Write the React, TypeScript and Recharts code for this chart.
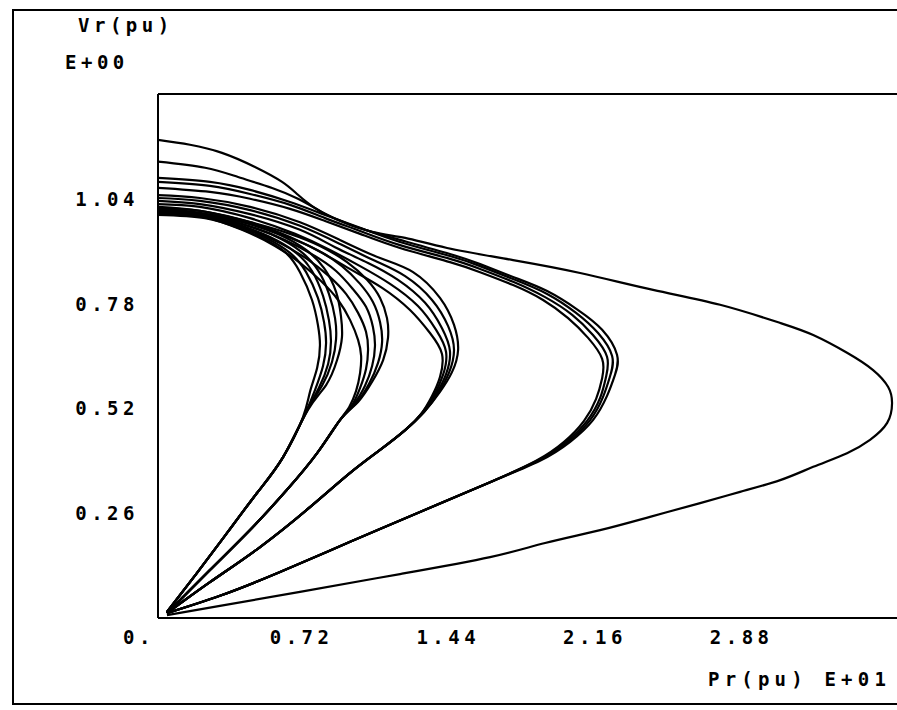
import React from 'react';
import { LineChart, Line, XAxis, YAxis, ReferenceLine } from 'recharts';

type Pt = [number, number];

// Tick labels
const X_TICKS = [0, 0.72, 1.44, 2.16, 2.88];
const Y_TICKS = [0.26, 0.52, 0.78, 1.04];

// Group 5 (largest nose)
const G5: Pt[] = [[0,1.186],[0.157,1.174],[0.314,1.154],[0.476,1.119],[0.609,1.082],[0.687,1.050],[0.771,1.017],[0.884,0.988],[1.051,0.958],[1.213,0.943],[1.419,0.918],[1.743,0.888],[2.072,0.856],[2.430,0.814],[2.759,0.777],[3.054,0.732],[3.216,0.702],[3.382,0.658],[3.510,0.615],[3.584,0.573],[3.603,0.533],[3.579,0.484],[3.495,0.442],[3.382,0.409],[3.216,0.375],[3.054,0.342],[2.857,0.313],[2.661,0.285],[2.415,0.251],[2.170,0.218],[1.900,0.186],[1.630,0.151],[1.188,0.109],[0.697,0.065],[0.304,0.030],[0.044,0.007]];

// Group 4
const G4_LOW: Pt[] = [[1.630,0.337],[1.286,0.263],[0.943,0.189],[0.599,0.114],[0.304,0.055],[0.044,0.012]];
const G4A: Pt[] = [[0,1.132],[0.231,1.117],[0.393,1.094],[0.560,1.067],[0.687,1.040],[0.805,1.007],[0.943,0.975],[1.188,0.938],[1.433,0.903],[1.581,0.878],[1.743,0.846],[1.910,0.811],[2.062,0.764],[2.180,0.715],[2.253,0.653],[2.243,0.603],[2.204,0.551],[2.135,0.491],[2.023,0.437],[1.875,0.390]];
const G4B: Pt[] = [[0,1.092],[0.255,1.082],[0.452,1.062],[0.648,1.032],[0.820,1.000],[0.992,0.968],[1.188,0.933],[1.433,0.898],[1.581,0.873],[1.743,0.841],[1.910,0.804],[2.052,0.757],[2.160,0.707],[2.229,0.650],[2.219,0.600],[2.184,0.548],[2.121,0.491],[2.013,0.437],[1.866,0.390]];
const G4C: Pt[] = [[0,1.082],[0.255,1.072],[0.452,1.052],[0.648,1.025],[0.820,0.992],[0.992,0.960],[1.188,0.925],[1.433,0.891],[1.581,0.866],[1.743,0.834],[1.900,0.796],[2.033,0.752],[2.135,0.702],[2.204,0.648],[2.199,0.598],[2.170,0.546],[2.106,0.489],[2.003,0.437],[1.861,0.390]];
const G4D: Pt[] = [[0,1.067],[0.255,1.057],[0.452,1.040],[0.648,1.015],[0.820,0.985],[0.992,0.953],[1.188,0.918],[1.433,0.883],[1.581,0.858],[1.743,0.826],[1.890,0.789],[2.013,0.744],[2.111,0.695],[2.180,0.643],[2.180,0.595],[2.150,0.543],[2.091,0.489],[1.993,0.437],[1.856,0.390]];

// Group 3
const G3_LOW: Pt[] = [[1.213,0.466],[1.090,0.417],[0.943,0.360],[0.746,0.275],[0.501,0.176],[0.255,0.089],[0.044,0.012]];
const G3A: Pt[] = [[0,1.049],[0.206,1.042],[0.452,1.020],[0.697,0.982],[0.893,0.938],[1.090,0.893],[1.252,0.858],[1.384,0.794],[1.453,0.727],[1.473,0.665],[1.443,0.610],[1.384,0.561],[1.306,0.511]];
const G3B: Pt[] = [[0,1.042],[0.206,1.035],[0.452,1.012],[0.697,0.973],[0.893,0.928],[1.065,0.886],[1.213,0.848],[1.345,0.789],[1.424,0.724],[1.453,0.665],[1.428,0.608],[1.375,0.558],[1.306,0.511]];
const G3C: Pt[] = [[0,1.035],[0.206,1.027],[0.452,1.002],[0.697,0.963],[0.869,0.920],[1.031,0.881],[1.178,0.839],[1.311,0.782],[1.394,0.719],[1.433,0.662],[1.414,0.605],[1.365,0.556],[1.301,0.511]];
const G3D: Pt[] = [[0,1.027],[0.206,1.020],[0.452,0.992],[0.673,0.953],[0.844,0.913],[0.992,0.873],[1.139,0.829],[1.276,0.774],[1.365,0.715],[1.414,0.660],[1.399,0.603],[1.355,0.553],[1.296,0.509]];
const G3E: Pt[] = [[0,1.020],[0.206,1.010],[0.452,0.982],[0.648,0.945],[0.805,0.906],[0.952,0.863],[1.100,0.819],[1.237,0.764],[1.335,0.707],[1.394,0.655],[1.384,0.598],[1.345,0.551],[1.291,0.506]];

// Group 2
const G2_LOW: Pt[] = [[0.893,0.491],[0.781,0.409],[0.633,0.318],[0.466,0.226],[0.255,0.119],[0.044,0.012]];
const G2A: Pt[] = [[0,1.017],[0.206,1.010],[0.452,0.982],[0.648,0.953],[0.795,0.923],[0.928,0.883],[1.026,0.839],[1.090,0.794],[1.124,0.744],[1.129,0.695],[1.105,0.640],[1.051,0.586],[0.982,0.536]];
const G2B: Pt[] = [[0,1.015],[0.206,1.005],[0.452,0.978],[0.638,0.945],[0.781,0.913],[0.903,0.873],[0.992,0.829],[1.055,0.784],[1.090,0.734],[1.100,0.685],[1.080,0.633],[1.036,0.581],[0.972,0.533]];
const G2C: Pt[] = [[0,1.012],[0.206,1.002],[0.442,0.973],[0.623,0.938],[0.761,0.901],[0.874,0.861],[0.957,0.816],[1.021,0.772],[1.055,0.722],[1.065,0.675],[1.051,0.625],[1.016,0.576],[0.962,0.531]];
const G2D: Pt[] = [[0,1.010],[0.206,1.000],[0.427,0.968],[0.599,0.930],[0.731,0.891],[0.839,0.848],[0.923,0.804],[0.982,0.757],[1.021,0.710],[1.031,0.665],[1.021,0.618],[0.992,0.571],[0.952,0.528]];
const G2E: Pt[] = [[0,1.007],[0.206,0.997],[0.412,0.963],[0.574,0.923],[0.697,0.881],[0.800,0.836],[0.884,0.789],[0.943,0.739],[0.982,0.690],[0.997,0.650],[0.992,0.608],[0.972,0.563],[0.938,0.523]];

// Group 1
const G1_LOW: Pt[] = [[0.614,0.399],[0.486,0.310],[0.339,0.211],[0.187,0.109],[0.044,0.015]];
const G1A: Pt[] = [[0,1.000],[0.231,0.992],[0.393,0.968],[0.511,0.943],[0.623,0.908],[0.697,0.858],[0.756,0.789],[0.785,0.727],[0.795,0.677],[0.781,0.620],[0.746,0.561],[0.712,0.499]];
const G1B: Pt[] = [[0,1.002],[0.231,0.995],[0.403,0.970],[0.530,0.943],[0.648,0.906],[0.727,0.858],[0.785,0.794],[0.815,0.734],[0.825,0.682],[0.810,0.625],[0.771,0.566],[0.722,0.506]];
const G1C: Pt[] = [[0,1.005],[0.231,0.997],[0.412,0.973],[0.550,0.945],[0.673,0.908],[0.756,0.861],[0.810,0.799],[0.839,0.739],[0.849,0.687],[0.835,0.630],[0.790,0.571],[0.727,0.511]];
const G1D: Pt[] = [[0,1.007],[0.231,1.000],[0.427,0.975],[0.574,0.948],[0.697,0.911],[0.785,0.863],[0.839,0.804],[0.869,0.744],[0.874,0.692],[0.854,0.635],[0.805,0.576],[0.731,0.514]];
const G1E: Pt[] = [[0,1.010],[0.231,1.002],[0.442,0.978],[0.599,0.950],[0.727,0.913],[0.815,0.868],[0.874,0.809],[0.898,0.749],[0.903,0.697],[0.879,0.640],[0.825,0.578],[0.736,0.516]];

const CURVES: Pt[][] = [
  G5,
  G4A.concat(G4_LOW), G4B.concat(G4_LOW), G4C.concat(G4_LOW), G4D.concat(G4_LOW),
  G3A.concat(G3_LOW), G3B.concat(G3_LOW), G3C.concat(G3_LOW), G3D.concat(G3_LOW), G3E.concat(G3_LOW),
  G2A.concat(G2_LOW), G2B.concat(G2_LOW), G2C.concat(G2_LOW), G2D.concat(G2_LOW), G2E.concat(G2_LOW),
  G1A.concat(G1_LOW), G1B.concat(G1_LOW), G1C.concat(G1_LOW), G1D.concat(G1_LOW), G1E.concat(G1_LOW),
];

const SERIES = CURVES.map((pts) => pts.map(([p, v]) => ({ p, v })));

const FONT = '"DejaVu Sans Mono", "Liberation Mono", monospace';
const TEXT_STYLE = { fontFamily: FONT, fontWeight: 700, fontSize: 19, letterSpacing: 4.5, fill: '#000' } as const;

const XTick = (props: any) => {
  const { x, y, payload } = props;
  const label = payload.value === 0 ? '0.' : Number(payload.value).toFixed(2);
  return (
    <text x={x - 35} y={y + 26} textAnchor="start" {...TEXT_STYLE}>
      {label}
    </text>
  );
};

const YTick = (props: any) => {
  const { x, y, payload } = props;
  return (
    <text x={x - 19} y={y + 7} textAnchor="end" {...TEXT_STYLE}>
      {Number(payload.value).toFixed(2)}
    </text>
  );
};

const labelDiv = (left: number, top: number, text: string, spacing = 4.5) => (
  <div
    style={{
      position: 'absolute',
      left,
      top,
      fontFamily: FONT,
      fontWeight: 700,
      fontSize: 19,
      lineHeight: '19px',
      letterSpacing: spacing,
      color: '#000',
      whiteSpace: 'pre',
    }}
  >
    {text}
  </div>
);

export default function App() {
  return (
    <div
      style={{
        position: 'absolute',
        left: 0,
        top: 0,
        width: 897,
        height: 710,
        overflow: 'hidden',
        background: '#fff',
      }}
    >
      <div
        style={{
          position: 'absolute',
          left: 12,
          top: 9,
          width: 920,
          height: 696,
          boxSizing: 'border-box',
          border: '2px solid #000',
        }}
      />
      <div style={{ position: 'absolute', left: 0, top: 0 }}>
        <LineChart width={960} height={710} margin={{ top: 94, right: 38, bottom: 62, left: 98 }}>
          <XAxis
            dataKey="p"
            type="number"
            domain={[0, 3.75]}
            ticks={X_TICKS}
            interval={0}
            allowDataOverflow
            tickLine={false}
            tickSize={0}
            tickMargin={0}
            height={30}
            axisLine={{ stroke: '#000', strokeWidth: 2 }}
            tick={<XTick />}
          />
          <YAxis
            dataKey="v"
            type="number"
            domain={[0, 1.3]}
            ticks={Y_TICKS}
            interval={0}
            allowDataOverflow
            tickLine={false}
            tickSize={0}
            tickMargin={0}
            width={60}
            axisLine={{ stroke: '#000', strokeWidth: 2 }}
            tick={<YTick />}
          />
          <ReferenceLine y={1.3} stroke="#000" strokeWidth={2} />
          {SERIES.map((data, i) => (
            <Line
              key={i}
              data={data}
              dataKey="v"
              type="natural"
              dot={false}
              activeDot={false}
              stroke="#000"
              strokeWidth={2.2}
              isAnimationActive={false}
            />
          ))}
        </LineChart>
      </div>
      {labelDiv(78, 16, 'Vr(pu)')}
      {labelDiv(65, 53, 'E+00')}
      {labelDiv(708, 670, 'Pr(pu) E+01', 5.2)}
    </div>
  );
}
